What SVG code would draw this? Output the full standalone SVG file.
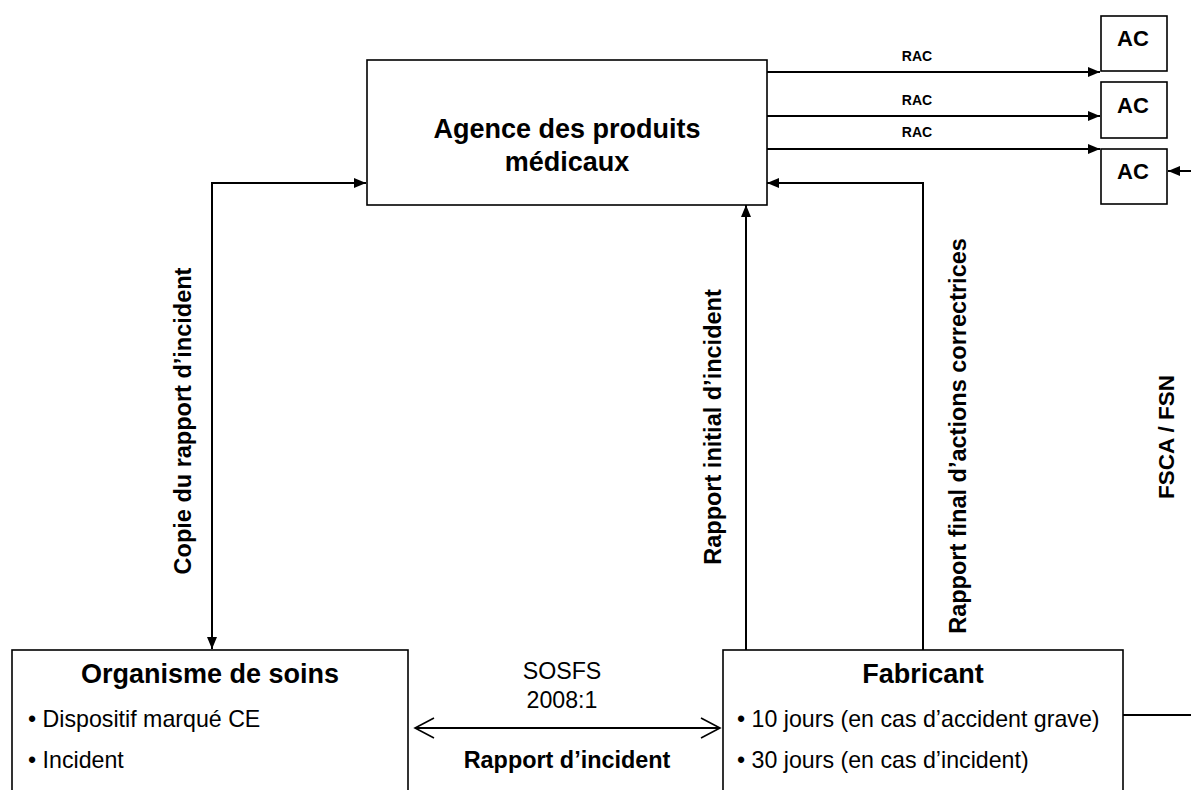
<svg xmlns="http://www.w3.org/2000/svg" width="1191" height="790" viewBox="0 0 1191 790">
<style>
  .box{fill:#fff;stroke:#000;stroke-width:1.6}
  .ln{fill:none;stroke:#000;stroke-width:2}
  .t{font-family:"Liberation Sans",Arial,sans-serif;fill:#000}
  .b{font-weight:bold}
  .title{font-size:27px;font-weight:bold;text-anchor:middle}
  .body{font-size:23.2px}
  .vlab{font-size:23.5px;font-weight:bold;text-anchor:middle}
  .rac{font-size:14px;font-weight:bold;text-anchor:middle}
  .ac{font-size:22px;font-weight:bold;text-anchor:middle}
</style>
<defs>
  <marker id="arr" viewBox="0 0 12 10" refX="12" refY="5" markerWidth="12" markerHeight="10" orient="auto-start-reverse" markerUnits="userSpaceOnUse">
    <path d="M0,0 L12,5 L0,10 z" fill="#000"/>
  </marker>
  <marker id="open" viewBox="0 0 22 24" refX="20" refY="12" markerWidth="22" markerHeight="24" orient="auto-start-reverse" markerUnits="userSpaceOnUse">
    <path d="M1,2 L20,12 L1,22" fill="none" stroke="#000" stroke-width="1.6"/>
  </marker>
</defs>
<rect width="1191" height="790" fill="#fff"/>

<g id="connectors">
  <path class="ln" d="M767,72 H1100" marker-end="url(#arr)"/>
  <path class="ln" d="M767,116 H1100" marker-end="url(#arr)"/>
  <path class="ln" d="M767,149 H1100" marker-end="url(#arr)"/>
  <path class="ln" d="M1191,171 H1168" marker-end="url(#arr)"/>
  <path class="ln" d="M1123,715 H1191"/>
  <path class="ln" d="M366,183 H212 V649" marker-start="url(#arr)" marker-end="url(#arr)"/>
  <path class="ln" d="M746,650 V205" marker-end="url(#arr)"/>
  <path class="ln" d="M923,650 V183 H767" marker-end="url(#arr)"/>
  <path class="ln" d="M415,728 H720" stroke-width="1.6" marker-start="url(#open)" marker-end="url(#open)"/>
  <text class="t rac" x="917" y="61">RAC</text>
  <text class="t rac" x="917" y="105">RAC</text>
  <text class="t rac" x="917" y="137">RAC</text>
  <text class="t vlab" transform="translate(191,421) rotate(-90)">Copie du rapport d’incident</text>
  <text class="t vlab" transform="translate(721,427) rotate(-90)">Rapport initial d’incident</text>
  <text class="t vlab" transform="translate(966,436) rotate(-90)">Rapport final d’actions correctrices</text>
  <text class="t" style="font-size:22.5px;font-weight:bold;text-anchor:middle" transform="translate(1174,437) rotate(-90)">FSCA / FSN</text>
  <text class="t body" x="562" y="679" text-anchor="middle">SOSFS</text>
  <text class="t body" x="562" y="708" text-anchor="middle">2008:1</text>
  <text class="t b" x="567" y="768" text-anchor="middle" style="font-size:23.4px">Rapport d’incident</text>
</g>

<g id="agence">
  <rect class="box" x="367" y="60" width="400" height="145"/>
  <text class="t title" x="567" y="138">Agence des produits</text>
  <text class="t title" x="567" y="171">médicaux</text>
</g>

<g id="ac1">
  <rect class="box" x="1101" y="16" width="66" height="55"/>
  <text class="t ac" x="1133" y="46">AC</text>
</g>
<g id="ac2">
  <rect class="box" x="1101" y="82" width="66" height="56"/>
  <text class="t ac" x="1133" y="113">AC</text>
</g>
<g id="ac3">
  <rect class="box" x="1101" y="149" width="66" height="55"/>
  <text class="t ac" x="1133" y="179">AC</text>
</g>

<g id="organisme">
  <rect class="box" x="12" y="650" width="396" height="160"/>
  <text class="t title" x="210" y="683">Organisme de soins</text>
  <text class="t body" x="28" y="727">• Dispositif marqué CE</text>
  <text class="t body" x="28" y="768">• Incident</text>
</g>

<g id="fabricant">
  <rect class="box" x="723" y="650" width="400" height="160"/>
  <text class="t title" x="923" y="683">Fabricant</text>
  <text class="t body" x="737" y="727">• 10 jours (en cas d’accident grave)</text>
  <text class="t body" x="737" y="768">• 30 jours (en cas d’incident)</text>
</g>
</svg>
